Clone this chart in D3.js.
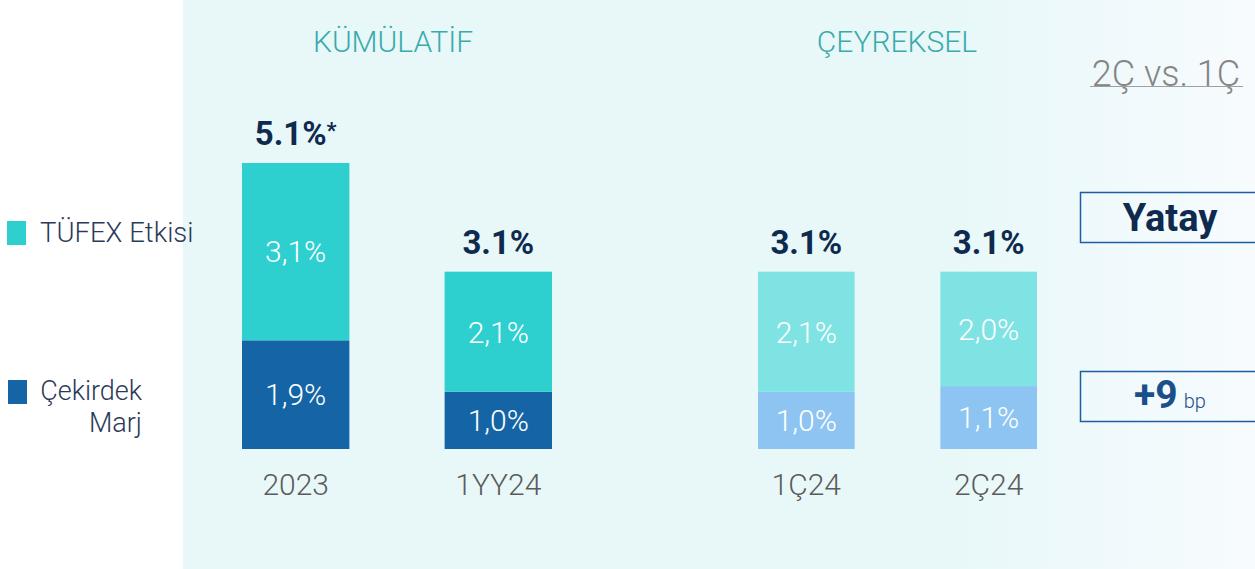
<!DOCTYPE html>
<html><head><meta charset="utf-8">
<script src="https://cdn.jsdelivr.net/npm/d3@7"></script>
<style>html,body{margin:0;padding:0;background:#fff;}svg{display:block;font-family:Roboto,"Noto Sans",sans-serif;}</style>
</head><body>
<script>
// ---- data ----
const categories = ["2023", "1YY24", "1Ç24", "2Ç24"];
const groups = ["cum", "cum", "q", "q"];
const coreMargin = [1.9, 1.0, 1.0, 1.1];
const tufexEffect = [3.1, 2.1, 2.1, 2.0];
const totalLabels = ["5.1%", "3.1%", "3.1%", "3.1%"];
const totalStars = ["*", "", "", ""];
const coreLabels = ["1,9%", "1,0%", "1,0%", "1,1%"];
const tufexLabels = ["3,1%", "2,1%", "2,1%", "2,0%"];
const seriesNames = ["TÜFEX Etkisi", "Çekirdek Marj"];
const panelTitles = ["KÜMÜLATİF", "ÇEYREKSEL"];
const compareTitle = "2Ç vs. 1Ç";
const compareValues = ["Yatay", "+9"];

const W = 1255, H = 569;
const svg = d3.select("body").append("svg").attr("width", W).attr("height", H);
const defs = svg.append("defs");
const grad = defs.append("linearGradient").attr("id", "bgGrad").attr("x1", "0").attr("x2", "1").attr("y1", "0").attr("y2", "0");
grad.append("stop").attr("offset", "0").attr("stop-color", "#e8f8f9");
grad.append("stop").attr("offset", "0.72").attr("stop-color", "#e8f8f9");
grad.append("stop").attr("offset", "1").attr("stop-color", "#f7fbfe");

svg.append("rect").attr("x", 183).attr("y", 0).attr("width", W - 183).attr("height", H).attr("fill", "url(#bgGrad)");

const y = d3.scaleLinear().domain([0, 5]).range([449, 163]);
const xCum = d3.scaleBand().domain(categories.filter((c, i) => groups[i] === "cum")).range([242, 552]).paddingInner(0.47).paddingOuter(0);
const xQ = d3.scaleBand().domain(categories.filter((c, i) => groups[i] === "q")).range([758, 1037]).paddingInner(0.47).paddingOuter(0);
const xOf = (i) => groups[i] === "cum" ? xCum : xQ;

const colors = {
  cum: { tufex: "#2ecfcf", core: "#1565a6" },
  q: { tufex: "#80e3e3", core: "#8ec4f1" }
};

const data = categories.map((c, i) => ({ c, i, g: groups[i], core: coreMargin[i], tufex: tufexEffect[i] }));

const bars = svg.append("g").selectAll("g").data(data).join("g");
bars.append("rect")
  .attr("x", d => xOf(d.i)(d.c)).attr("width", d => xOf(d.i).bandwidth())
  .attr("y", d => y(d.core)).attr("height", d => y(0) - y(d.core))
  .attr("fill", d => colors[d.g].core);
bars.append("rect")
  .attr("x", d => xOf(d.i)(d.c)).attr("width", d => xOf(d.i).bandwidth())
  .attr("y", d => y(d.core + d.tufex)).attr("height", d => y(d.core) - y(d.core + d.tufex))
  .attr("fill", d => colors[d.g].tufex);

const cx = d => xOf(d.i)(d.c) + xOf(d.i).bandwidth() / 2;

// segment labels
bars.append("text").attr("x", cx).attr("y", d => (y(0) + y(d.core)) / 2).attr("dy", "0.36em")
  .attr("text-anchor", "middle").attr("fill", "#ffffff").attr("font-size", 30).attr("font-weight", 300)
  .text(d => coreLabels[d.i]);
bars.append("text").attr("x", cx).attr("y", d => (y(d.core) + y(d.core + d.tufex)) / 2).attr("dy", "0.36em")
  .attr("text-anchor", "middle").attr("fill", "#ffffff").attr("font-size", 30).attr("font-weight", 300)
  .text(d => tufexLabels[d.i]);

// totals
const tot = bars.append("text").attr("x", cx).attr("y", d => y(d.core + d.tufex) - 18)
  .attr("text-anchor", "middle").attr("fill", "#0e2a4e").attr("font-size", 33).attr("font-weight", 700);
tot.append("tspan").text(d => totalLabels[d.i]);
tot.append("tspan").attr("font-size", 22).attr("dy", -7).text(d => totalStars[d.i]);

// category axis labels
bars.append("text").attr("x", cx).attr("y", 495)
  .attr("text-anchor", "middle").attr("fill", "#5b5b5b").attr("font-size", 30).attr("font-weight", 300)
  .text(d => d.c);

// panel titles
svg.selectAll("text.ptitle").data(panelTitles).join("text").attr("class", "ptitle")
  .attr("x", (d, i) => i === 0 ? 393 : 897).attr("y", 52)
  .attr("text-anchor", "middle").attr("fill", "#3aabab").attr("font-size", 30).attr("font-weight", 300)
  .text(d => d);

// legend
const leg = svg.append("g");
leg.append("rect").attr("x", 7).attr("y", 221).attr("width", 19).attr("height", 24).attr("fill", colors.cum.tufex);
leg.append("text").attr("x", 40).attr("y", 242).attr("fill", "#2c3a58").attr("font-size", 27.5).attr("font-weight", 300).text(seriesNames[0]);
leg.append("rect").attr("x", 8).attr("y", 380).attr("width", 19).attr("height", 24).attr("fill", colors.cum.core);
const coreWords = seriesNames[1].split(" ");
leg.append("text").attr("x", 142).attr("y", 400).attr("text-anchor", "end").attr("fill", "#2c3a58").attr("font-size", 27).attr("font-weight", 300).text(coreWords[0]);
leg.append("text").attr("x", 142).attr("y", 432).attr("text-anchor", "end").attr("fill", "#2c3a58").attr("font-size", 27).attr("font-weight", 300).text(coreWords[1]);

// comparison column
svg.append("text").attr("x", 1166).attr("y", 86).attr("text-anchor", "middle")
  .attr("fill", "#858585").attr("font-size", 36).attr("font-weight", 300)
  .text(compareTitle);
svg.append("line").attr("x1", 1090).attr("x2", 1243).attr("y1", 86.5).attr("y2", 86.5).attr("stroke", "#a0a0a0").attr("stroke-width", 1);

svg.append("rect").attr("x", 1080.5).attr("y", 192.5).attr("width", 190).attr("height", 50)
  .attr("fill", "none").attr("stroke", "#1d5e9e").attr("stroke-width", 1.5);
svg.append("text").attr("x", 1170).attr("y", 231).attr("text-anchor", "middle")
  .attr("fill", "#0e2a4e").attr("font-size", 38).attr("font-weight", 700).text(compareValues[0]);

svg.append("rect").attr("x", 1080.5).attr("y", 371.5).attr("width", 190).attr("height", 50)
  .attr("fill", "none").attr("stroke", "#1d5e9e").attr("stroke-width", 1.5);
const bp = svg.append("text").attr("x", 1170).attr("y", 408).attr("text-anchor", "middle").attr("fill", "#1a4f8b");
bp.append("tspan").attr("font-size", 39).attr("font-weight", 700).text(compareValues[1]);
bp.append("tspan").attr("font-size", 20).attr("font-weight", 300).attr("dx", 6).text("bp");
</script>
</body></html>
